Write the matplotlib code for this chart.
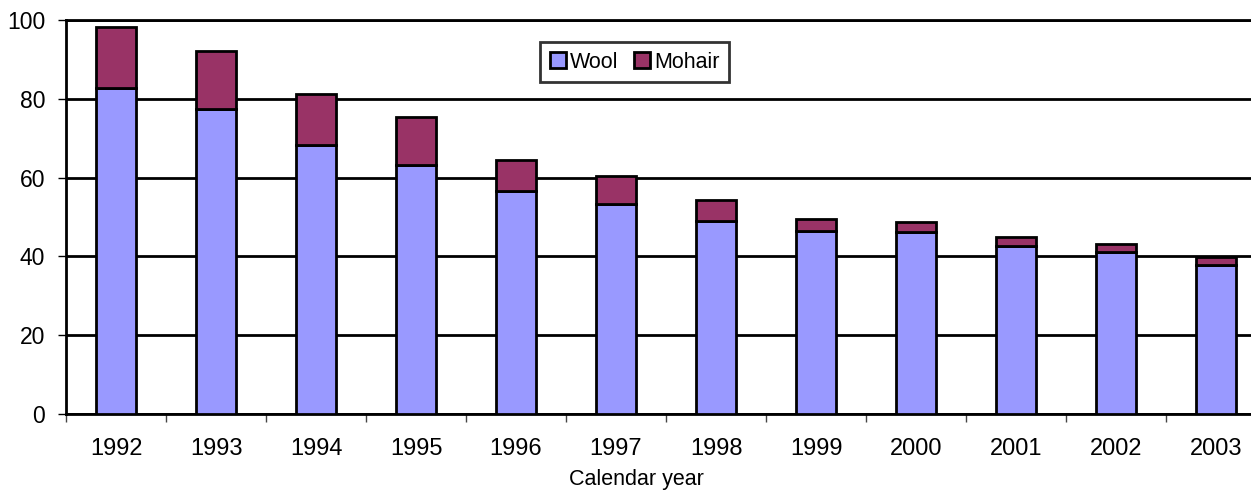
import numpy as np
import matplotlib.pyplot as plt
from matplotlib.ticker import FixedLocator

plt.rcParams['font.family'] = ['Liberation Sans', 'DejaVu Sans']

# data
years = ['1992', '1993', '1994', '1995', '1996', '1997',
         '1998', '1999', '2000', '2001', '2002', '2003']
wool = [82.8, 77.4, 68.4, 63.3, 56.5, 53.4, 49.1, 46.5, 46.1, 42.7, 41.0, 37.8]
mohair = [15.4, 14.7, 12.7, 12.2, 7.9, 7.0, 5.2, 2.9, 2.7, 2.2, 2.2, 2.0]

fig = plt.figure(figsize=(12.51, 4.91), dpi=100)
# plot area runs past the right edge of the figure, as in the original
ax = fig.add_axes([66 / 1251, 77 / 491, 1200 / 1251, 394 / 491])

x = np.arange(len(years))
ax.bar(x, wool, width=0.4, color='#9999FF', edgecolor='black', linewidth=2,
       label='Wool', zorder=3)
ax.bar(x, mohair, width=0.4, bottom=wool, color='#993366', edgecolor='black',
       linewidth=2, label='Mohair', zorder=3)

ax.set_xlim(-0.5, len(years) - 0.5)
ax.set_ylim(0, 100)
ax.set_yticks([0, 20, 40, 60, 80, 100])
ax.yaxis.grid(True, color='black', linewidth=2, zorder=0)
ax.tick_params(axis='y', labelsize=16.5, length=6, width=1, pad=9)

# ticks between categories, labels centered under bars
ax.xaxis.set_major_locator(FixedLocator(np.arange(len(years) + 1) - 0.5))
ax.xaxis.set_minor_locator(FixedLocator(x))
ax.set_xticklabels([], minor=False)
ax.set_xticklabels(years, minor=True)
ax.tick_params(axis='x', which='major', length=6, width=1, color='#444444')
ax.tick_params(axis='x', which='minor', length=0, labelsize=17, pad=17)

for s in ['left', 'bottom', 'top']:
    ax.spines[s].set_linewidth(2)
ax.spines['right'].set_visible(False)

# centred on the visible part of the chart, like the original
ax.set_xlabel('Calendar year', fontsize=15.5, labelpad=6.5, x=0.475)

leg = ax.legend(loc='upper left', bbox_to_anchor=(474 / 1200, 372 / 394), ncol=2,
                fontsize=15.5, frameon=True, fancybox=False, handlelength=0.75,
                handleheight=0.75, handletextpad=0.2, columnspacing=0.7,
                borderpad=0.45, borderaxespad=0)
leg.get_frame().set_edgecolor('black')
leg.get_frame().set_linewidth(2)
for h in leg.legend_handles:
    h.set_linewidth(2)

fig.savefig('out.png', dpi=100)
